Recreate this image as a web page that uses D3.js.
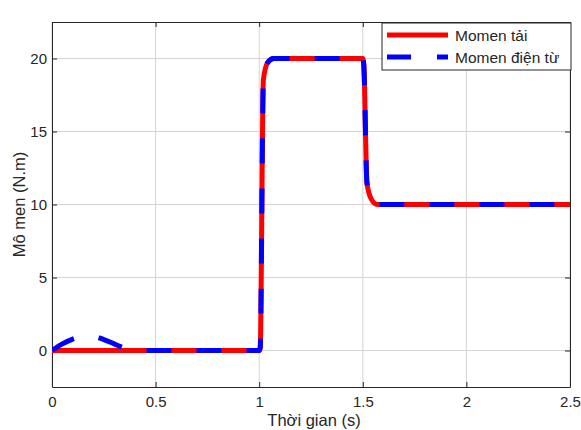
<!DOCTYPE html>
<html><head><meta charset="utf-8">
<script src="https://cdn.jsdelivr.net/npm/d3@7"></script>
<style>body{margin:0;background:#fff}svg{display:block}text{font-family:"Liberation Sans",Arial,sans-serif;fill:#262626}</style>
</head><body>
<script>
const xTicks = [0, 0.5, 1, 1.5, 2, 2.5];
const xTickLabels = ["0", "0.5", "1", "1.5", "2", "2.5"];
const yTicks = [0, 5, 10, 15, 20];
const seriesNames = ["Momen tải", "Momen điện từ"];
// Load torque
const loadT = [0, 0.5, 1.0, 1.005, 1.02, 1.04, 1.07, 1.2, 1.5, 1.505, 1.52, 1.54, 1.57, 2.0, 2.5];
const loadV = [0, 0, 0, 0.2, 18.5, 19.7, 20, 20, 20, 19.5, 11.5, 10.4, 10, 10, 10];
// Electromagnetic torque
const emT = [0, 0.05, 0.1, 0.15, 0.2, 0.25, 0.3, 0.35, 0.4, 0.45, 0.7, 1.0, 1.005, 1.02, 1.04, 1.07, 1.2, 1.5, 1.505, 1.52, 1.54, 1.57, 2.0, 2.5];
const emV = [0, 0.45, 0.78, 0.95, 0.95, 0.75, 0.45, 0.18, 0.05, 0, 0, 0, 0.2, 18.5, 19.7, 20, 20, 20, 19.5, 11.5, 10.4, 10, 10, 10];

const W = 581, H = 430;
const m = {l: 52, r: 11, t: 22, b: 43};
const svg = d3.select("body").append("svg").attr("width", W).attr("height", H);
const x = d3.scaleLinear().domain([0, 2.5]).range([m.l, W - m.r]);
const y = d3.scaleLinear().domain([-2.5, 22.5]).range([H - m.b, m.t]);

// grid
const g = svg.append("g");
g.selectAll(".vx").data(xTicks).join("line").attr("x1", d => x(d)).attr("x2", d => x(d))
  .attr("y1", y(-2.5)).attr("y2", y(22.5)).attr("stroke", "#d4d4d4").attr("stroke-width", 1);
g.selectAll(".hy").data(yTicks).join("line").attr("y1", d => y(d)).attr("y2", d => y(d))
  .attr("x1", x(0)).attr("x2", x(2.5)).attr("stroke", "#d4d4d4").attr("stroke-width", 1);

// axes (inward ticks)
const ax = svg.append("g").attr("transform", `translate(0,${y(-2.5)})`)
  .call(d3.axisBottom(x).tickValues(xTicks).tickFormat((d, i) => xTickLabels[i]).tickSizeInner(-5).tickSizeOuter(0).tickPadding(9));
const axT = svg.append("g").attr("transform", `translate(0,${y(22.5)})`)
  .call(d3.axisTop(x).tickValues(xTicks).tickFormat("").tickSizeInner(-5).tickSizeOuter(0));
const ay = svg.append("g").attr("transform", `translate(${x(0)},0)`)
  .call(d3.axisLeft(y).tickValues(yTicks).tickSizeInner(-5).tickSizeOuter(0).tickPadding(5));
const ayR = svg.append("g").attr("transform", `translate(${x(2.5)},0)`)
  .call(d3.axisRight(y).tickValues(yTicks).tickFormat("").tickSizeInner(-5).tickSizeOuter(0));
[ax, axT, ay, ayR].forEach(a => {
  a.select(".domain").attr("stroke", "#262626").attr("stroke-width", 1);
  a.selectAll(".tick line").attr("stroke", "#262626");
  a.selectAll(".tick text").attr("font-size", 15).attr("fill", "#262626").style("font-family", "Liberation Sans, Arial, sans-serif");
});

// clip
svg.append("clipPath").attr("id", "c").append("rect")
  .attr("x", m.l).attr("y", m.t).attr("width", W - m.l - m.r).attr("height", H - m.t - m.b);

const line = d3.line().x(d => x(d[0])).y(d => y(d[1])).curve(d3.curveMonotoneX);
const loadData = loadT.map((t, i) => [t, loadV[i]]);
const emData = emT.map((t, i) => [t, emV[i]]);
const pg = svg.append("g").attr("clip-path", "url(#c)");
pg.append("path").datum(loadData).attr("d", line).attr("fill", "none")
  .attr("stroke", "#ff0000").attr("stroke-width", 5).attr("stroke-linejoin", "round");
pg.append("path").datum(emData).attr("d", line).attr("fill", "none")
  .attr("stroke", "#0000ff").attr("stroke-width", 5).attr("stroke-dasharray", "25,25").attr("stroke-linejoin", "round");

// labels
svg.append("text").attr("x", (x(0) + x(2.5)) / 2 + 3).attr("y", 426).attr("text-anchor", "middle")
  .attr("font-size", 16.5).text("Thời gian (s)");
svg.append("text").attr("transform", `translate(25,${(y(-2.5) + y(22.5)) / 2}) rotate(-90)`)
  .attr("text-anchor", "middle").attr("font-size", 16.5).text("Mô men (N.m)");

// legend
const lg = svg.append("g");
lg.append("rect").attr("x", 382).attr("y", 23).attr("width", 189).attr("height", 47)
  .attr("fill", "#fff").attr("stroke", "#262626").attr("stroke-width", 1);
const colors = ["#ff0000", "#0000ff"];
seriesNames.forEach((n, i) => {
  const yy = 35 + i * 22;
  lg.append("line").attr("x1", 387).attr("x2", 448).attr("y1", yy).attr("y2", yy)
    .attr("stroke", colors[i]).attr("stroke-width", 5)
    .attr("stroke-dasharray", i === 1 ? "24,26" : null);
  lg.append("text").attr("x", 455).attr("y", yy + 5.5).attr("font-size", 15.5).text(n);
});
</script>
</body></html>
